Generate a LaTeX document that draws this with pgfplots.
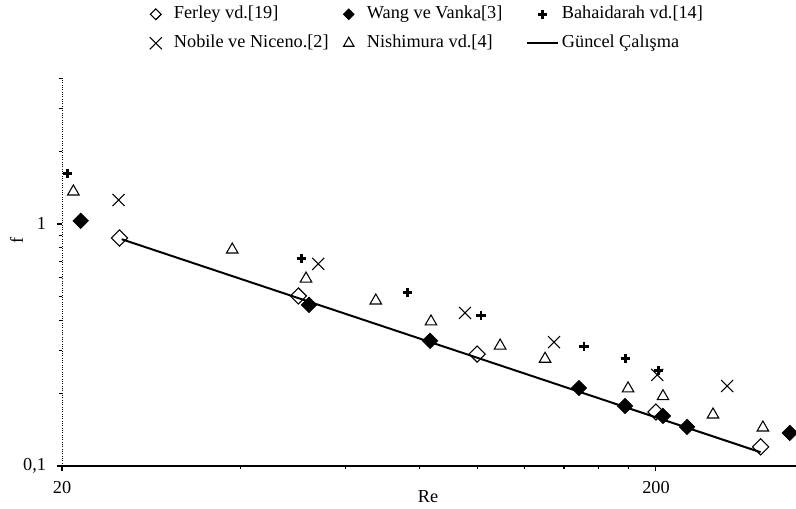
\documentclass[border=0pt]{standalone}
\usepackage{fontspec}
\setmainfont{Liberation Serif}
\usepackage{pgfplots}
\pgfplotsset{compat=1.18}

% legend images: a single centred mark, or a short line, in a 23.25pt wide cell
\pgfplotsset{
  markleg/.style={legend image code/.code={%
      \path[draw=none,fill=none] (0pt,-5pt) (23.25pt,5pt);
      \draw[##1,mark size=#1] plot coordinates {(11.625pt,0pt)};}},
  lineleg/.style={legend image code/.code={%
      \draw[##1] (0pt,0pt) -- (23.25pt,0pt);}},
}

\begin{document}
\begin{tikzpicture}[font=\fontsize{13.7}{16}\selectfont]
\begin{axis}[
  at={(0pt,0pt)}, anchor=south west,
  scale only axis, width=550.5pt, height=291pt,
  xmode=log, ymode=log,
  xmin=20, xmax=344.2, ymin=0.1, ymax=4.01,
  axis x line=bottom, axis y line=left,
  axis line style={-},
  x axis line style={line width=1.4pt},
  y axis line style={densely dotted, line width=0.75pt},
  xtick={20,200}, xticklabels={20,200},
  minor xtick={40,60,80,100,120,140,160,180},
  ytick={0.1,1}, yticklabels={{0,1},1},
  minor ytick={0.2,0.3,0.4,0.5,0.6,0.7,0.8,0.9,2,3,4},
  tick align=outside,
  major tick length=4pt, minor tick length=2.5pt,
  tick style={black, line width=0.8pt},
  xticklabel style={yshift=-4pt},
  yticklabel style={xshift=-4.5pt},
  xlabel={Re}, ylabel={f},
  xlabel style={at={(axis description cs:0.4986,-0.08)}, anchor=center},
  ylabel style={at={(axis description cs:-0.062,0.582)}, anchor=center},
  clip=false,
  legend columns=3,
  legend cell align=left,
  legend style={
    draw=none, fill=none, inner sep=0pt,
    at={(axis description cs:0,1)}, anchor=north west,
    xshift=58.5pt, yshift=54.75pt,
    column sep=0pt, row sep=8.25pt,
    nodes={inner xsep=2pt, inner ysep=0pt, text height=10pt, text depth=3.5pt},
  },
]
% Ferley vd.
\addplot[only marks, mark=square, mark size=4.3pt, line width=0.8pt, mark options={rotate=45, fill=white}, markleg=2.9pt]
  coordinates {(25,0.875) (50,0.504) (100,0.290) (200,0.167) (300,0.120)};
\addlegendentry{\makebox[117.5pt][l]{Ferley vd.[19]}}
% Wang ve Vanka
\addplot[only marks, mark=square*, mark size=4.1pt, line width=0.5pt, mark options={rotate=45, fill=black}, markleg=2.9pt]
  coordinates {(21.5,1.03) (52.1,0.463) (83.3,0.329) (148.4,0.210) (177.4,0.177) (205.5,0.161) (225.6,0.145) (336,0.137)};
\addlegendentry{\makebox[117.5pt][l]{Wang ve Vanka[3]}}
% Bahaidarah vd.: bold plus signs
\addplot[only marks, mark=+, mark size=3.4pt, line width=2.2pt,
  mark options={line width=2.2pt}, every mark/.append style={line width=2.2pt}, markleg=3.4pt]
  coordinates {(20.4,1.62) (50.6,0.717) (76.2,0.519) (101.5,0.417) (151.3,0.313) (177.4,0.279) (202.3,0.247)};
\addlegendentry{Bahaidarah vd.[14]}
% Nobile ve Niceno
\addplot[only marks, mark=x, mark size=6.4pt, line width=0.8pt, markleg=6.4pt]
  coordinates {(24.9,1.256) (54.0,0.684) (95.4,0.429) (134.7,0.325) (201,0.238) (263.6,0.214)};
\addlegendentry{\makebox[117.5pt][l]{Nobile ve Niceno.[2]}}
% Nishimura vd.
\addplot[only marks, mark=triangle, mark size=5pt, line width=0.8pt, markleg=4.5pt]
  coordinates {(20.9,1.36) (38.7,0.783) (51.5,0.594) (67.5,0.482) (83.6,0.395) (109.3,0.314) (130.1,0.277) (179.5,0.209) (205.5,0.194) (249.5,0.163) (302.7,0.144)};
\addlegendentry{\makebox[117.5pt][l]{Nishimura vd.[4]}}
% present study
\addplot[black, line width=1.5pt, mark=none, lineleg]
  coordinates {(25.2,0.865) (300,0.114)};
\addlegendentry{Güncel Çalışma}
\end{axis}
\pgfresetboundingbox
\useasboundingbox (-46.5pt,-32.25pt) rectangle (550.5pt,349.5pt);
\end{tikzpicture}
\end{document}
